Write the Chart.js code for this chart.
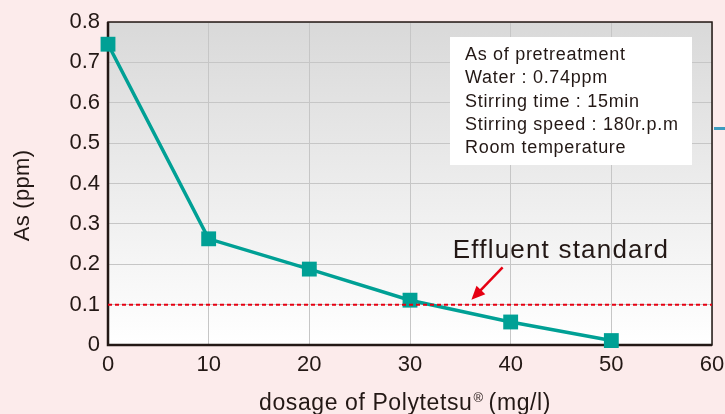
<!DOCTYPE html>
<html lang="en">
<head>
    <meta charset="UTF-8">
    <title>As removal - Polytetsu dosage</title>
    <style>
        html, body { margin: 0; padding: 0; background: #fcebeb; }
        #wrap { width: 725px; height: 414px; }
    </style>
    <script src="https://cdn.jsdelivr.net/npm/chart.js"></script>
</head>
<body>
<div id="wrap"><canvas id="asChart" width="725" height="414"></canvas></div>
<script>
    // data
    const dosages = [0, 10, 20, 30, 40, 50];
    const asValues = [0.745, 0.263, 0.188, 0.111, 0.057, 0.011];
    const standardLevel = 0.1;
    const infoLines = ['As of pretreatment', 'Water : 0.74ppm', 'Stirring time : 15min', 'Stirring speed : 180r.p.m', 'Room temperature'];
    const standardLabel = 'Effluent standard';
    const xTitle = ['dosage of Polytetsu', '\u00AE', '(mg/l)'];
    const yTitle = 'As (ppm)';

    const ink = '#231815';
    const font = '"Liberation Sans", Arial, sans-serif';

    const backdrop = {
        id: 'backdrop',
        beforeDraw(chart) {
            const { ctx, chartArea: a } = chart;
            ctx.save();
            ctx.fillStyle = '#fcebeb';
            ctx.fillRect(0, 0, chart.width, chart.height);
            const g = ctx.createLinearGradient(0, a.top, 0, a.bottom);
            g.addColorStop(0, '#d9d9d9');
            g.addColorStop(1, '#ffffff');
            ctx.fillStyle = g;
            ctx.fillRect(a.left, a.top, a.right - a.left, a.bottom - a.top);
            ctx.restore();
        },
        beforeDatasetsDraw(chart) {
            const { ctx, chartArea: a } = chart;
            ctx.save();
            ctx.strokeStyle = ink;
            ctx.lineWidth = 1.5;
            ctx.strokeRect(a.left, a.top, a.right - a.left, a.bottom - a.top);
            ctx.lineWidth = 2.5;
            ctx.beginPath();
            ctx.moveTo(a.left, a.top);
            ctx.lineTo(a.left, a.bottom);
            ctx.lineTo(a.right, a.bottom);
            ctx.stroke();
            // stray bit of a connector line to the right of the frame
            ctx.strokeStyle = '#3d9cbf';
            ctx.lineWidth = 3;
            ctx.beginPath();
            ctx.moveTo(a.right + 2, 128.5);
            ctx.lineTo(chart.width, 128.5);
            ctx.stroke();
            ctx.restore();
        },
        afterDraw(chart) {
            const { ctx, scales } = chart;
            ctx.save();
            ctx.fillStyle = ink;

            // axis titles
            ctx.font = '23px ' + font;
            ctx.letterSpacing = '0.6px';
            const w1 = ctx.measureText(xTitle[0]).width;
            const w3 = ctx.measureText(xTitle[2]).width;
            ctx.font = '13px ' + font;
            const w2 = ctx.measureText(xTitle[1]).width;
            let xs = 405 - (w1 + w2 + w3 + 6) / 2;
            ctx.font = '23px ' + font;
            ctx.fillText(xTitle[0], xs, 410);
            ctx.font = '13px ' + font;
            ctx.fillText(xTitle[1], xs + w1 + 1, 402);
            ctx.font = '23px ' + font;
            ctx.fillText(xTitle[2], xs + w1 + w2 + 6, 410);

            ctx.save();
            ctx.translate(29, 195.5);
            ctx.rotate(-Math.PI / 2);
            ctx.font = '22px ' + font;
            ctx.letterSpacing = '0.3px';
            ctx.textAlign = 'center';
            ctx.fillText(yTitle, 0, 0);
            ctx.restore();

            // info box
            ctx.fillStyle = '#ffffff';
            ctx.fillRect(450, 37, 242, 128);
            ctx.fillStyle = ink;
            ctx.font = '18px ' + font;
            ctx.letterSpacing = '0.7px';
            infoLines.forEach((t, i) => ctx.fillText(t, 465, 60 + i * 23.3));

            // effluent standard label + arrow
            ctx.font = '26px ' + font;
            ctx.letterSpacing = '1.2px';
            ctx.textAlign = 'center';
            ctx.fillText(standardLabel, 561, 258);
            ctx.letterSpacing = '0px';
            const x = scales.x, y = scales.y;
            const tx = x.getPixelForValue(39.2), ty = y.getPixelForValue(0.192);
            const hx = x.getPixelForValue(36.1), hy = y.getPixelForValue(0.112);
            const ang = Math.atan2(hy - ty, hx - tx);
            ctx.strokeStyle = '#e60012';
            ctx.fillStyle = '#e60012';
            ctx.lineWidth = 2.5;
            ctx.beginPath();
            ctx.moveTo(tx, ty);
            ctx.lineTo(hx - 10 * Math.cos(ang), hy - 10 * Math.sin(ang));
            ctx.stroke();
            ctx.beginPath();
            ctx.moveTo(hx, hy);
            ctx.lineTo(hx - 15 * Math.cos(ang - 0.42), hy - 15 * Math.sin(ang - 0.42));
            ctx.lineTo(hx - 15 * Math.cos(ang + 0.42), hy - 15 * Math.sin(ang + 0.42));
            ctx.closePath();
            ctx.fill();
            ctx.restore();
        }
    };

    new Chart(document.getElementById('asChart'), {
        type: 'line',
        data: {
            datasets: [
                {
                    label: 'Effluent standard',
                    data: [{ x: 0, y: standardLevel }, { x: 60, y: standardLevel }],
                    borderColor: '#e60012',
                    borderWidth: 2,
                    borderDash: [4, 3],
                    pointRadius: 0
                },
                {
                    label: 'As',
                    data: dosages.map((d, i) => ({ x: d, y: asValues[i] })),
                    borderColor: '#00a095',
                    backgroundColor: '#00a095',
                    borderWidth: 3.5,
                    pointStyle: 'rect',
                    pointRadius: 10.5,
                    pointBorderWidth: 0,
                    tension: 0,
                    clip: false
                }
            ]
        },
        options: {
            responsive: false,
            animation: false,
            layout: { padding: { left: 0, right: 0, top: 22, bottom: 0 } },
            plugins: { legend: { display: false }, tooltip: { enabled: false } },
            scales: {
                x: {
                    type: 'linear',
                    min: 0, max: 60,
                    ticks: { stepSize: 10, color: ink, padding: 7, font: { family: font, size: 22 } },
                    grid: { color: '#c6c6c6', drawTicks: false },
                    border: { display: false },
                    afterFit(s) { s.height = 69; s.paddingRight = 13; s.paddingLeft = 0; }
                },
                y: {
                    min: 0, max: 0.8,
                    ticks: { stepSize: 0.1, color: ink, padding: 8, font: { family: font, size: 22 } },
                    grid: { color: '#c6c6c6', drawTicks: false },
                    border: { display: false },
                    afterFit(s) { s.width = 108; }
                }
            }
        },
        plugins: [backdrop]
    });
</script>
</body>
</html>
